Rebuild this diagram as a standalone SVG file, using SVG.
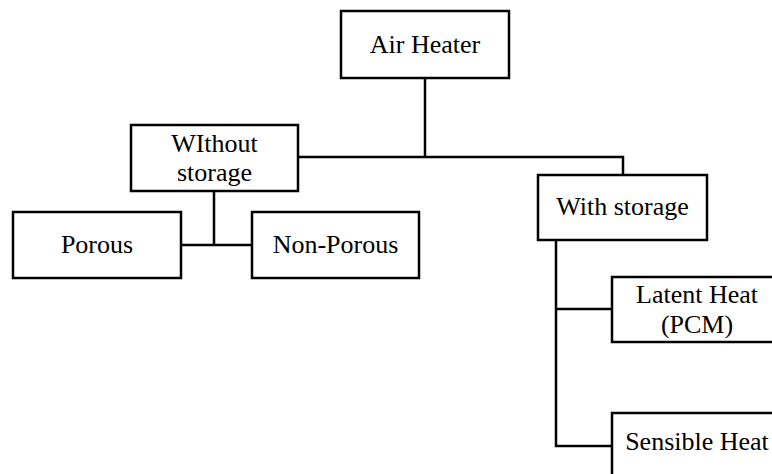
<svg xmlns="http://www.w3.org/2000/svg" width="772" height="474" viewBox="0 0 772 474">
<style>
.box{fill:#fff;stroke:#000;stroke-width:2.5}
.ln{fill:none;stroke:#000;stroke-width:2.5}
.t{font-size:26px;fill:#000;text-anchor:middle}
</style>
<rect width="772" height="474" fill="#fff"/>
<g id="connectors">
<path class="ln" d="M425 78V157"/>
<path class="ln" d="M298 157H623V175"/>
<path class="ln" d="M214 191V245M181 245H252"/>
<path class="ln" d="M556 240V446H612M556 309H612"/>
</g>
<g font-family="Liberation Serif, Times New Roman, DejaVu Serif, serif">
<g id="air-heater"><rect class="box" x="341" y="11" width="168" height="67"/><text class="t" x="425" y="53">Air Heater</text></g>
<g id="without-storage"><rect class="box" x="131" y="125" width="167" height="66"/><text class="t" x="214.5" y="152">WIthout</text><text class="t" x="214.5" y="180.5">storage</text></g>
<g id="porous"><rect class="box" x="13" y="212" width="168" height="66"/><text class="t" x="97" y="253">Porous</text></g>
<g id="non-porous"><rect class="box" x="252" y="212" width="167" height="66"/><text class="t" x="335.5" y="253">Non-Porous</text></g>
<g id="with-storage"><rect class="box" x="538" y="175" width="169" height="65"/><text class="t" x="622.5" y="215">With storage</text></g>
<g id="latent-heat"><rect class="box" x="612" y="277" width="170" height="65"/><text class="t" x="697" y="303">Latent Heat</text><text class="t" x="697" y="332.5">(PCM)</text></g>
<g id="sensible-heat"><rect class="box" x="612" y="413" width="170" height="80"/><text class="t" x="697" y="450">Sensible Heat</text></g>
</g>
</svg>
